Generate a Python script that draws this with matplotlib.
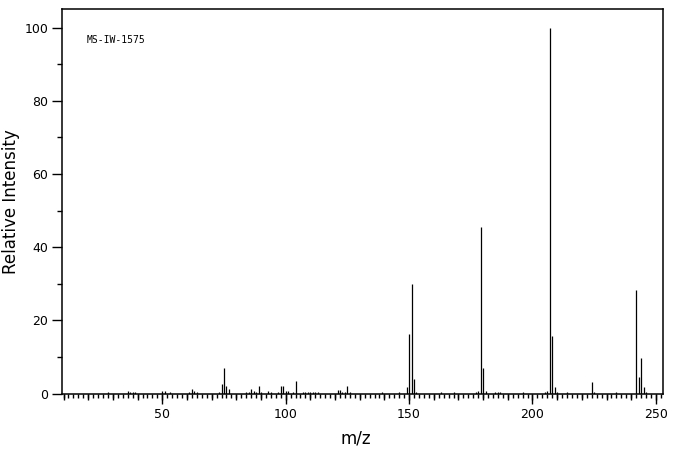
import matplotlib
matplotlib.use("Agg")
import matplotlib.pyplot as plt
from matplotlib.ticker import MultipleLocator

# peak list
mz = [28, 36, 37, 38, 39, 50, 51, 53, 61, 62, 63, 64,
      73, 74, 75, 76, 77, 84, 85, 86, 87, 88, 89, 90,
      93, 94, 97, 98, 99, 100, 101, 103, 104,
      107, 108, 109, 110, 111, 112, 113,
      121, 122, 123, 124, 125, 126, 139, 146,
      149, 150, 151, 152, 153, 163, 168,
      177, 178, 179, 180, 181, 185, 186, 187, 196,
      205, 206, 207, 208, 209, 210, 214, 224, 225, 234,
      242, 243, 244, 245, 246]
intensity = [0.3, 0.8, 0.3, 0.4, 0.3, 0.8, 0.8, 0.3, 0.3, 1.3, 0.8, 0.3,
             0.3, 2.5, 7.0, 2.0, 1.2, 0.3, 0.5, 1.2, 0.8, 0.3, 2.0, 0.3,
             0.8, 0.3, 0.3, 2.0, 2.0, 0.8, 0.8, 0.4, 3.5,
             0.3, 0.3, 0.3, 0.5, 0.5, 0.3, 0.3,
             1.0, 1.0, 0.5, 0.5, 2.1, 0.3, 0.3, 0.3,
             1.7, 16.2, 29.9, 4.0, 0.5, 0.3, 0.3,
             0.4, 0.8, 45.4, 7.0, 0.7, 0.3, 0.3, 0.3, 0.3,
             0.4, 0.8, 100, 15.7, 1.8, 0.4, 0.3, 3.1, 0.4, 0.3,
             28.3, 4.5, 9.7, 1.7, 0.4]
sample_id = "MS-IW-1575"

fig = plt.figure(figsize=(6.76, 4.55), dpi=100)
ax = fig.add_axes([0.0922, 0.135, 0.889, 0.8445])

ax.vlines(mz, 0, intensity, color="black", lw=0.9)

ax.set_xlim(9.5, 253)
ax.set_ylim(0, 105)

ax.xaxis.set_major_locator(MultipleLocator(50))
ax.xaxis.set_minor_locator(MultipleLocator(2))
ax.yaxis.set_major_locator(MultipleLocator(20))
ax.yaxis.set_minor_locator(MultipleLocator(10))
ax.tick_params(axis="both", which="major", direction="out", length=7.2,
               width=1, labelsize=9, pad=3)
ax.tick_params(axis="both", which="minor", direction="out", length=3.6, width=1)
ax.tick_params(axis="x", which="minor", length=2.8)

# medium ticks every 10 on the m/z axis
sec = ax.secondary_xaxis("bottom")
sec.xaxis.set_major_locator(MultipleLocator(10))
sec.tick_params(axis="x", which="major", direction="out", length=4.3, width=1,
                labelbottom=False)
sec.xaxis.set_minor_locator(plt.NullLocator())
sec.spines["bottom"].set_visible(False)

for sp in ax.spines.values():
    sp.set_linewidth(1.1)

ax.set_xlabel("m/z", fontsize=12)
ax.set_ylabel("Relative Intensity", fontsize=12)
ax.xaxis.set_label_coords(0.489, -0.093)
ax.yaxis.set_label_coords(-0.071, 0.5)

ax.text(0.04, 0.92, sample_id, transform=ax.transAxes, family="DejaVu Sans Mono",
        fontsize=7, va="center", ha="left")

fig.savefig("out.png", dpi=100)
